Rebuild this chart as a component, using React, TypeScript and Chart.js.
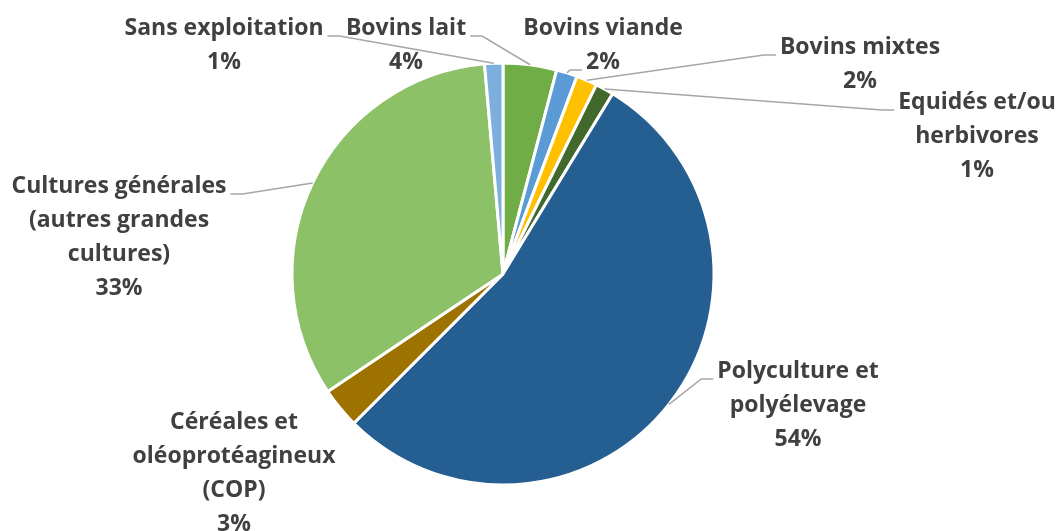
import React, { useEffect, useRef } from "react";
import { Chart, registerables } from "chart.js";

Chart.register(...registerables);

// ---- Data (clockwise from 12 o'clock) ----
const categories: string[][] = [
  ["Bovins lait"],
  ["Bovins viande"],
  ["Bovins mixtes"],
  ["Equidés et/ou", "herbivores"],
  ["Polyculture et", "polyélevage"],
  ["Céréales et", "oléoprotéagineux", "(COP)"],
  ["Cultures générales", "(autres grandes", "cultures)"],
  ["Sans exploitation"],
];
const shares = [4.1, 1.6, 1.6, 1.4, 53.8, 3.1, 33.0, 1.4];
const sliceColors = [
  "#70AD47",
  "#5B9BD5",
  "#FFC000",
  "#43682B",
  "#255E91",
  "#9E7200",
  "#8CC168",
  "#7CAFDD",
];

// ---- Label layout (centre x of text block, centre y of first line, leader attach) ----
type LabelPos = { x: number; y: number; side: "left" | "right" | "none"; line: number };
const labelLayout: LabelPos[] = [
  { x: 406, y: 28, side: "right", line: 0 },
  { x: 603, y: 28, side: "left", line: 1 },
  { x: 860, y: 47, side: "left", line: 0 },
  { x: 977, y: 102, side: "left", line: 0 },
  { x: 798, y: 371, side: "left", line: 0 },
  { x: 234, y: 422, side: "none", line: 0 },
  { x: 119, y: 186, side: "right", line: 0 },
  { x: 224, y: 28, side: "right", line: 0 },
];

const FONT = "bold 23px 'Open Sans'";
const LINE_H = 34;
const TEXT_COLOR = "#404040";
const LEADER_COLOR = "#A6A6A6";

const labelPlugin = {
  id: "outsideLabels",
  afterDatasetsDraw(chart: any) {
    const ctx: CanvasRenderingContext2D = chart.ctx;
    const meta = chart.getDatasetMeta(0);
    const data: number[] = chart.data.datasets[0].data;
    const total = data.reduce((a, b) => a + b, 0);
    ctx.save();
    ctx.font = FONT;
    ctx.textAlign = "center";
    ctx.textBaseline = "middle";
    meta.data.forEach((arc: any, i: number) => {
      const pos = labelLayout[i];
      const lines = [...categories[i], Math.round((data[i] / total) * 100) + "%"];
      if (pos.side !== "none") {
        const p = arc.getProps(["x", "y", "startAngle", "endAngle", "outerRadius"], true);
        const mid = (p.startAngle + p.endAngle) / 2;
        const ax = p.x + Math.cos(mid) * p.outerRadius;
        const ay = p.y + Math.sin(mid) * p.outerRadius;
        const w = ctx.measureText(lines[pos.line]).width;
        const ly = pos.y + pos.line * LINE_H + 8;
        const dir = pos.side === "right" ? 1 : -1;
        const sx = pos.x + dir * (w / 2 + 4);
        const ex = sx + dir * 12;
        ctx.strokeStyle = LEADER_COLOR;
        ctx.lineWidth = 1.5;
        ctx.beginPath();
        ctx.moveTo(sx, ly);
        ctx.lineTo(ex, ly);
        ctx.lineTo(ax, ay);
        ctx.stroke();
      }
      ctx.fillStyle = TEXT_COLOR;
      lines.forEach((t, k) => {
        ctx.fillText(t, pos.x, pos.y + k * LINE_H);
      });
    });
    ctx.restore();
  },
};

export default function App() {
  const ref = useRef<HTMLCanvasElement | null>(null);
  useEffect(() => {
    if (!ref.current) return;
    const chart = new Chart(ref.current, {
      type: "pie",
      data: {
        labels: categories.map((c) => c.join(" ")),
        datasets: [
          {
            data: shares,
            backgroundColor: sliceColors,
            borderColor: "#FFFFFF",
            borderWidth: 3,
            radius: 211,
          } as any,
        ],
      },
      options: {
        animation: false,
        responsive: false,
        devicePixelRatio: 1,
        layout: { padding: { left: 0, right: 56, top: 17, bottom: 0 } },
        plugins: {
          legend: { display: false },
          tooltip: { enabled: false },
        },
      },
      plugins: [labelPlugin],
    });
    return () => chart.destroy();
  }, []);
  return (
    <div style={{ position: "fixed", left: 0, top: 0, width: 1062, height: 531, background: "#FFFFFF" }}>
      <canvas ref={ref} width={1062} height={531} />
    </div>
  );
}
